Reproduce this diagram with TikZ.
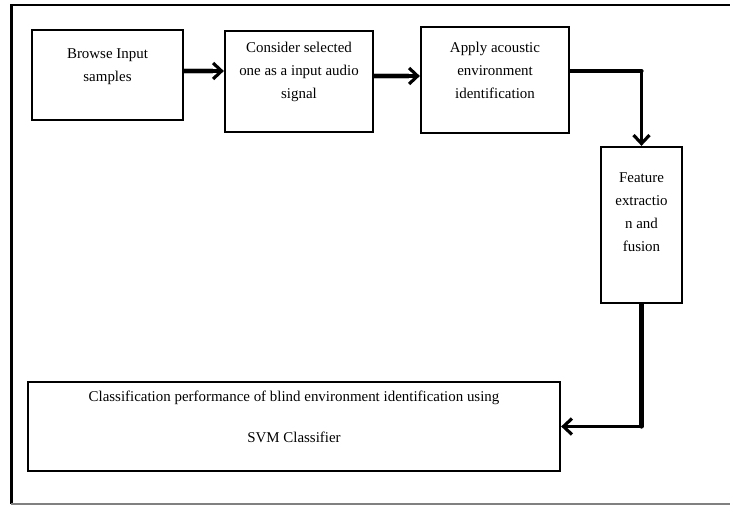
\documentclass[tikz,border=0pt]{standalone}
\usepackage{fontspec}
\setmainfont{Liberation Serif}
\usetikzlibrary{arrows.meta}

\tikzset{
    box/.style={draw, line width=1.3pt, inner sep=0pt},
    lbl/.style={anchor=north, align=center, inner sep=0pt, font=\fontsize{8.5}{13}\selectfont},
    arr/.style={line width=1.9pt, -{Straight Barb[length=1.7mm, width=3.2mm, line width=1.8pt]}},
    halo/.style={preaction={draw, gray!55, line width=3.4pt, arrows=-, shorten >=2.2mm}},
    heavy/.style={line width=2.4pt, line cap=round},
}

\begin{document}
\begin{tikzpicture}
    \useasboundingbox (0,0) rectangle (14.6,10.12);
    % outer frame
    \draw[line width=1.5pt] (14.6,10.02) -- (0.23,10.02) -- (0.23,0.04);
    \draw[line width=1.1pt, color=gray] (0.23,0.04) -- (14.6,0.04);

    \node[box, minimum width=3.02cm, minimum height=1.8cm, label={[lbl, yshift=-0.40cm]north:{Browse Input\\samples}}] (browse) at (2.15,8.62) {};
    \node[box, minimum width=2.96cm, minimum height=2.02cm, label={[lbl, yshift=-0.24cm]north:{Consider selected\\one as a input audio\\signal}}] (consider) at (5.98,8.49) {};
    \node[box, minimum width=2.96cm, minimum height=2.12cm, label={[lbl, yshift=-0.32cm]north:{Apply acoustic\\environment\\identification}}] (apply) at (9.9,8.52) {};
    \node[box, minimum width=1.62cm, minimum height=3.12cm, label={[lbl, yshift=-0.54cm]north:{Feature\\extractio\\n and\\fusion}}] (feature) at (12.83,5.62) {};
    \node[box, minimum width=10.64cm, minimum height=1.78cm, label={[lbl, yshift=-0.2cm]north:{Classification performance of blind environment identification using\\[10pt]SVM Classifier}}] (classify) at (5.88,1.59) {};

    \coordinate (c1) at ([yshift=1.8mm]apply.east -| feature.north);
    \coordinate (c2) at (feature.south |- classify.east);

    \draw[arr, halo] ([yshift=0.8mm]browse.east) -- ([yshift=0.8mm]browse.east -| consider.west);
    \draw[arr, halo] ([yshift=1.1mm]consider.east) -- ([yshift=1.1mm]consider.east -| apply.west);
    \draw[heavy] ([yshift=1.8mm]apply.east) -- (c1);
    \draw[arr, line width=1.3pt] (c1) -- (feature.north);
    \draw[heavy] (feature.south) -- (c2);
    \draw[arr, line width=1.6pt] (c2) -- (classify.east);
\end{tikzpicture}
\end{document}
